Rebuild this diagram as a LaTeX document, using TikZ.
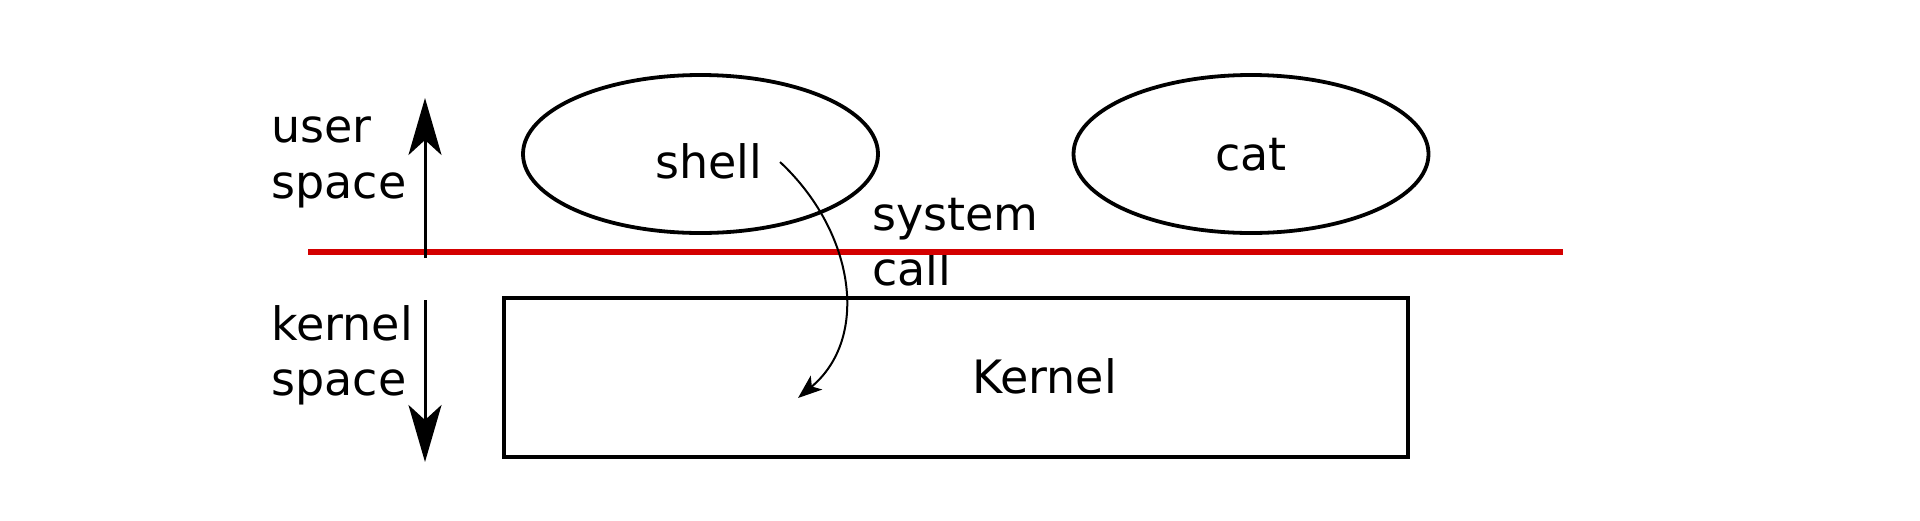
\documentclass[tikz,border=0pt]{standalone}
\usepackage{fontspec}
\setmainfont{DejaVu Sans}
\usetikzlibrary{shapes.geometric,arrows.meta}
\definecolor{linered}{RGB}{212,0,0}
\begin{document}
\begin{tikzpicture}[x=0.5pt,y=-0.5pt,
  lbl/.style={anchor=base west,inner sep=0pt,font=\fontsize{23}{27}\selectfont},
  proc/.style={draw,ellipse,line width=1.9pt,minimum width=177.5pt,minimum height=79pt,inner sep=0pt},
  box/.style={draw,rectangle,line width=1.9pt,inner sep=0pt,minimum width=452pt,minimum height=79.5pt},
  bigarrow/.style={line width=1.5pt,-{Stealth[length=28.5pt,width=16.5pt,inset=7.5pt]}},
  sysarrow/.style={line width=1pt,-{Stealth[length=12pt,width=9pt,inset=3pt]}}]
\useasboundingbox (0,0) rectangle (1920,520);
% boxes
\node[proc] (shell) at (700.5,154) {};
\node[proc] (cat) at (1251,154) {};
\node[box] (kernel) at (956,377.5) {};
% labels
\node[lbl] (shelltxt) at (655,178) {shell};
\node[lbl] (cattxt) at (1215,170) {cat};
\node[lbl] (kerneltxt) at (972,393) {Kernel};
\node[lbl] (user1) at (271,142) {user};
\node[lbl] (user2) at (271,198) {space};
\node[lbl] (kern1) at (271,340) {kernel};
\node[lbl] (kern2) at (271,395) {space};
\node[lbl] (sys1) at (872,230) {system};
\node[lbl] (sys2) at (872,285) {call};
% red boundary
\coordinate (redL) at (308,252);
\coordinate (redR) at (1563,252);
\draw[linered,line width=3pt] (redL) -- (redR);
% user / kernel arrows
\coordinate (upA) at (425,258);
\coordinate (upB) at (425,98);
\coordinate (dnA) at (425,300);
\coordinate (dnB) at (425,462);
\draw[bigarrow] (upA) -- (upB);
\draw[bigarrow] (dnA) -- (dnB);
% system call
\coordinate (scA) at (780,162);
\coordinate (scB) at (798,398);
\draw[sysarrow] (scA) .. controls (855,232) and (870,338) .. (scB);
\end{tikzpicture}
\end{document}
